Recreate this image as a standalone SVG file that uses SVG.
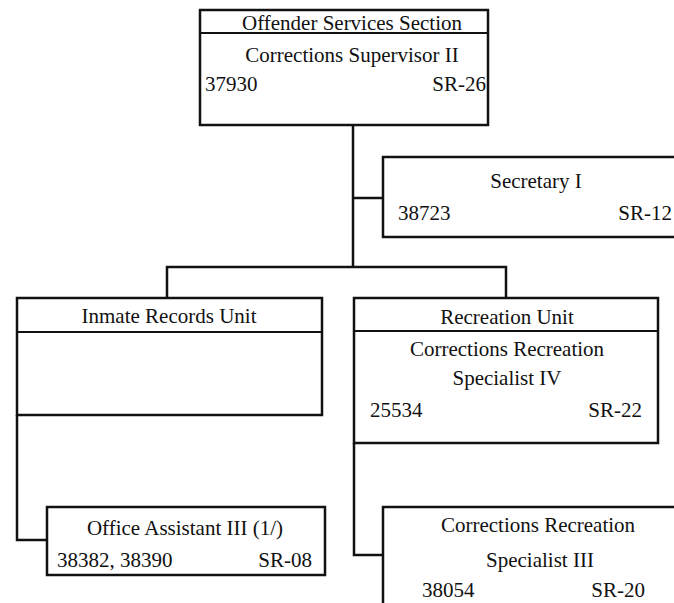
<svg xmlns="http://www.w3.org/2000/svg" width="674" height="603" viewBox="0 0 674 603">
<style>
.box{fill:#fff;stroke:#111;stroke-width:2.5}
.div{stroke:#111;stroke-width:2}
.conn{fill:none;stroke:#111;stroke-width:2.5}
text{font-family:"Liberation Serif","Times New Roman",serif;font-size:21px;fill:#111}
.c{text-anchor:middle}
.e{text-anchor:end}
</style>
<rect width="674" height="603" fill="#fff"/>
<g id="connectors">
<path class="conn" d="M353 125V267M353 198H383M167 298V267H506V298"/>
<path class="conn" d="M17 415V540H47"/>
<path class="conn" d="M354 443V555H383"/>
</g>
<g id="offender-services">
<rect class="box" x="200" y="10" width="288" height="115"/>
<line class="div" x1="200" y1="33" x2="488" y2="33"/>
<text class="c" x="352" y="30">Offender Services Section</text>
<text class="c" x="352" y="62">Corrections Supervisor II</text>
<text x="205" y="91">37930</text>
<text class="e" x="486" y="91">SR-26</text>
</g>
<g id="secretary">
<rect class="box" x="383" y="157" width="320" height="80"/>
<text class="c" x="536" y="188">Secretary I</text>
<text x="398" y="220">38723</text>
<text class="e" x="672" y="220">SR-12</text>
</g>
<g id="inmate-records">
<rect class="box" x="17" y="298" width="305" height="117"/>
<line class="div" x1="17" y1="332" x2="322" y2="332"/>
<text class="c" x="169" y="323">Inmate Records Unit</text>
</g>
<g id="recreation">
<rect class="box" x="354" y="298" width="304" height="145"/>
<line class="div" x1="354" y1="331" x2="658" y2="331"/>
<text class="c" x="507" y="324">Recreation Unit</text>
<text class="c" x="507" y="356">Corrections Recreation</text>
<text class="c" x="507" y="385">Specialist IV</text>
<text x="370" y="417">25534</text>
<text class="e" x="642" y="417">SR-22</text>
</g>
<g id="office-assistant">
<rect class="box" x="47" y="507" width="278" height="68"/>
<text class="c" x="185" y="535">Office Assistant III (1/)</text>
<text x="57" y="567">38382, 38390</text>
<text class="e" x="312" y="567">SR-08</text>
</g>
<g id="recreation-specialist-iii">
<rect class="box" x="383" y="507" width="320" height="120"/>
<text class="c" x="538" y="532">Corrections Recreation</text>
<text class="c" x="540" y="567">Specialist III</text>
<text x="422" y="597">38054</text>
<text class="e" x="645" y="597">SR-20</text>
</g>
</svg>
